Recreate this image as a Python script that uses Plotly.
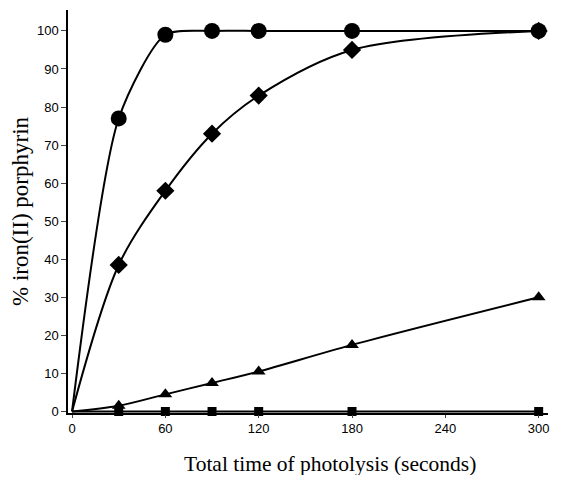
import plotly.graph_objects as go

time_s = [0, 30, 60, 90, 120, 180, 300]
circles = [0, 77, 99, 100, 100, 100, 100]
diamonds = [0, 38.5, 58, 73, 83, 95, 100]
triangles = [0, 1.5, 4.5, 7.5, 10.5, 17.5, 30]
squares = [0, 0, 0, 0, 0, 0, 0]

x_ticks = [0, 60, 120, 180, 240, 300]
y_ticks = [0, 10, 20, 30, 40, 50, 60, 70, 80, 90, 100]

series = [
    (squares, "square", 9, 0.9),
    (triangles, "triangle-up", 12, 0.9),
    (diamonds, "diamond", 14, 0.9),
    (circles, "circle", 16, 0.7),
]

fig = go.Figure()
for vals, sym, sz, sm in series:
    sizes = [0] + [sz] * (len(time_s) - 1)
    fig.add_trace(go.Scatter(
        x=time_s, y=vals, mode="lines+markers",
        line=dict(color="black", width=2, shape="spline", smoothing=sm),
        marker=dict(symbol=sym, size=sizes, color="black", opacity=1, line=dict(width=0)),
        showlegend=False, cliponaxis=False,
    ))

# page body has an 8px default margin, so the figure is sized to fit inside it
fig.update_layout(
    width=547, height=467,
    margin=dict(l=60, r=7, t=2, b=62),
    paper_bgcolor="white", plot_bgcolor="white",
    font=dict(family="Liberation Sans, Arial, sans-serif", size=13, color="black"),
)
fig.add_annotation(
    text="Total time of photolysis (seconds)",
    xref="paper", yref="paper", x=0.546, y=-0.1266,
    xanchor="center", yanchor="middle", showarrow=False,
    font=dict(family="Liberation Serif, Times New Roman, serif", size=21.5, color="black"),
)
fig.update_xaxes(
    range=[-2.6, 306], tickvals=x_ticks, ticks="outside", ticklen=3,
    showline=True, linecolor="black", linewidth=1.5, showgrid=False, zeroline=False,
    automargin=False,
)
fig.update_yaxes(
    range=[-0.4, 105.5], tickvals=y_ticks, ticks="outside", ticklen=5,
    showline=True, linecolor="black", linewidth=1.5, showgrid=False, zeroline=False,
    automargin=False,
    title=dict(text="% iron(II) porphyrin",
               font=dict(family="Liberation Serif, Times New Roman, serif", size=23), standoff=8),
)

fig.write_html("out.html")
